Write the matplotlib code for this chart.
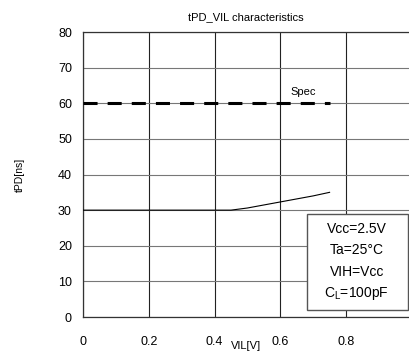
import matplotlib
matplotlib.use("Agg")
import matplotlib.pyplot as plt
from matplotlib.patches import Rectangle

plt.rcParams['font.family'] = ['Liberation Sans', 'DejaVu Sans']

# measured curve
vil = [0.0, 0.45, 0.5, 0.6, 0.7, 0.75]
tpd = [30.0, 30.0, 30.6, 32.3, 34.0, 35.0]

# spec line
spec_x = [0.0, 0.75]
spec_y = [60, 60]

xticks = [0, 0.2, 0.4, 0.6, 0.8]
xlabels = ["0", "0.2", "0.4", "0.6", "0.8"]
yticks = [0, 10, 20, 30, 40, 50, 60, 70, 80]

cond_lines = ["Vcc=2.5V", "Ta=25\u00b0C", "VIH=Vcc", "C$_\\mathregular{L}$=100pF"]

fig = plt.figure(figsize=(4.09, 3.54), dpi=100)
ax = fig.add_axes([0.203, 0.1045, 0.797, 0.805])

ax.set_xlim(0, 0.9916)
ax.set_ylim(0, 80)
ax.set_xticks(xticks)
ax.set_xticklabels(xlabels)
ax.set_yticks(yticks)
ax.tick_params(length=0, labelsize=9, pad=14)
ax.tick_params(axis='y', pad=8)
ax.xaxis.grid(True, color='#222222', linewidth=0.8)
ax.yaxis.grid(True, color='#777777', linewidth=0.8)
for s in ax.spines.values():
    s.set_color('#333333')
    s.set_linewidth(0.9)
ax.spines['right'].set_visible(False)

ax.plot(spec_x, spec_y, color='black', linewidth=2.2, dashes=(4.6, 3.3), zorder=3)
ax.plot(vil, tpd, color='black', linewidth=0.8, zorder=3)
ax.text(0.63, 62.2, "Spec", fontsize=8)

ax.text(0.5, 1.035, "tPD_VIL characteristics", transform=ax.transAxes,
        ha='center', va='bottom', fontsize=8)
ax.set_ylabel("tPD[ns]", fontsize=7.5, labelpad=24)
ax.set_xlabel("VIL[V]", fontsize=8)
ax.xaxis.set_label_coords(0.50, -0.085)

ax.add_patch(Rectangle((0.687, 0.025), 0.31, 0.336, transform=ax.transAxes,
                       facecolor='white', edgecolor='#555555', linewidth=1,
                       zorder=5))
for i, line in enumerate(cond_lines):
    ax.text(0.84, 0.31 - i * 0.076, line, transform=ax.transAxes,
            ha='center', va='center', fontsize=10, zorder=6)

fig.savefig("out.png", dpi=100)
